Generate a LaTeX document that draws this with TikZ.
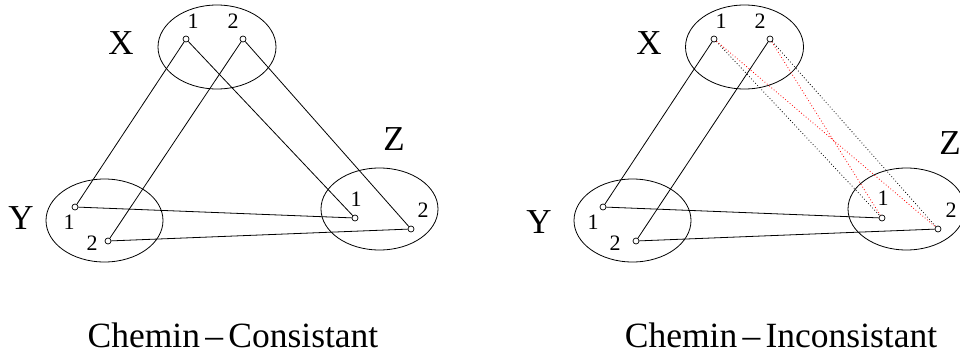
\documentclass[tikz,border=0pt]{standalone}
\usepackage{fontspec}
\setmainfont{Liberation Serif}
\usetikzlibrary{shapes.geometric}
\begin{document}
\begin{tikzpicture}[x=1pt,y=-1pt,
  grp/.style={draw,ellipse,inner sep=0pt,line width=0.8pt},
  pt/.style={draw,circle,fill=white,inner sep=0pt,minimum size=6pt,line width=0.7pt},
  big/.style={inner sep=0pt,font=\fontsize{35}{40}\selectfont},
  num/.style={inner sep=0pt,font=\fontsize{22}{26}\selectfont},
  captext/.style={inner sep=0pt,anchor=base,font=\fontsize{35.5}{40}\selectfont},
  link/.style={line width=0.8pt},
  dotb/.style={line width=0.8pt,dash pattern=on 0.8pt off 2.2pt,black},
  dotr/.style={line width=0.8pt,dash pattern=on 0.8pt off 2.2pt,red}]
\useasboundingbox (0,0) rectangle (960,356);
% ---------- left ----------
\node[grp,minimum width=118pt,minimum height=84pt] (lXe) at (217,47) {};
\node[grp,minimum width=117pt,minimum height=83pt] (lYe) at (104.5,220.5) {};
\node[grp,minimum width=117pt,minimum height=82pt] (lZe) at (379.5,209) {};
\node[big] (lX) at (121,43) {X};
\node[big] (lY) at (21,218) {Y};
\node[big] (lZ) at (394,139) {Z};
\node[num] (lX1l) at (193,21) {1};
\node[num] (lX2l) at (233,21) {2};
\node[num] (lY1l) at (69,222) {1};
\node[num] (lY2l) at (92,243) {2};
\node[num] (lZ1l) at (356,199) {1};
\node[num] (lZ2l) at (423,210) {2};
\node[pt] (lX1) at (186,39) {};
\node[pt] (lX2) at (243,39) {};
\node[pt] (lY1) at (75,207) {};
\node[pt] (lY2) at (108,241) {};
\node[pt] (lZ1) at (355,218) {};
\node[pt] (lZ2) at (411,229) {};
\draw[link] (lX1) -- (lY1);
\draw[link] (lX2) -- (lY2);
\draw[link] (lX1) -- (lZ1);
\draw[link] (lX2) -- (lZ2);
\draw[link] (lY1) -- (lZ1);
\draw[link] (lY2) -- (lZ2);
\node[captext] (lcap) at (233,347) {Chemin\kern0.15em–\kern0.15emConsistant};
% ---------- right ----------
\node[grp,minimum width=118pt,minimum height=84pt] (rXe) at (744.5,47) {};
\node[grp,minimum width=117pt,minimum height=83pt] (rYe) at (632.5,220.5) {};
\node[grp,minimum width=117pt,minimum height=82pt] (rZe) at (906.5,209) {};
\node[big] (rX) at (649,43) {X};
\node[big] (rY) at (539,222) {Y};
\node[big] (rZ) at (950,143) {Z};
\node[num] (rX1l) at (721,21) {1};
\node[num] (rX2l) at (760,21) {2};
\node[num] (rY1l) at (593,222) {1};
\node[num] (rY2l) at (615,243) {2};
\node[num] (rZ1l) at (883,198) {1};
\node[num] (rZ2l) at (951,210) {2};
\node[pt] (rX1) at (714,39) {};
\node[pt] (rX2) at (770,39) {};
\node[pt] (rY1) at (603,207) {};
\node[pt] (rY2) at (636,241) {};
\node[pt] (rZ1) at (882,218) {};
\node[pt] (rZ2) at (938,229) {};
\draw[link] (rX1) -- (rY1);
\draw[link] (rX2) -- (rY2);
\draw[link] (rY1) -- (rZ1);
\draw[link] (rY2) -- (rZ2);
\draw[dotb] (rX1) -- (rZ1);
\draw[dotr] (rX1) -- (rZ2);
\draw[dotr] (rX2) -- (rZ1);
\draw[dotb] (rX2) -- (rZ2);
\node[captext] (rcap) at (781,347) {Chemin\kern0.15em–\kern0.15emInconsistant};
\end{tikzpicture}
\end{document}
